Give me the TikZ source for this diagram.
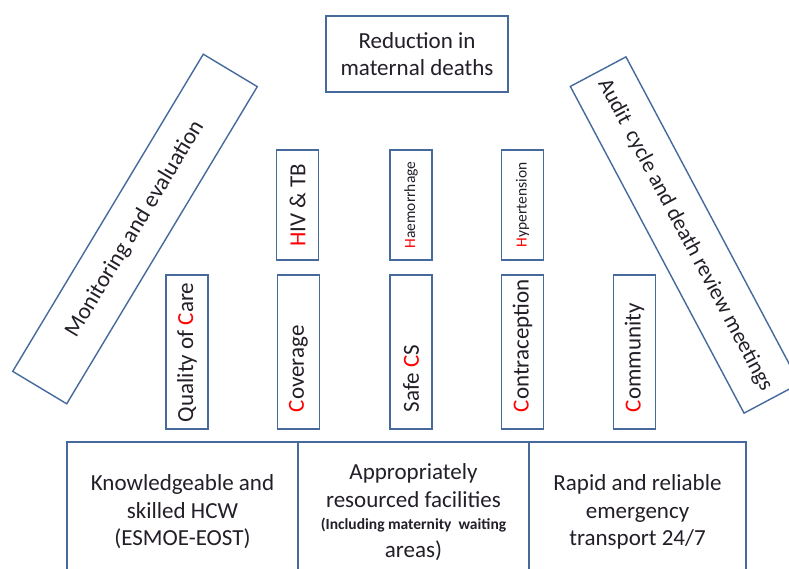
\documentclass[tikz,border=0pt]{standalone}
\usepackage{fontspec}
\setmainfont{Carlito}
\definecolor{boxline}{RGB}{70,106,156}
\definecolor{ink}{RGB}{35,30,40}
\newcommand{\red}[1]{\textcolor{red}{#1}}

\begin{document}
\begin{tikzpicture}[x=1pt, y=1pt,
  box/.style={draw=boxline, line width=1.4pt, text=ink, align=center, inner sep=0pt,
    font=\fontsize{23}{27.5}\selectfont},
  pillar/.style={box, rotate=90, minimum width=110pt, minimum height=42pt},
  column/.style={box, rotate=90, minimum height=42pt, text width=120pt, align=flush left, inner xsep=17pt},
  beam/.style={box, minimum width=370pt, minimum height=63pt},
  base/.style={box, minimum height=140pt}
]

  \useasboundingbox (0, 0) rectangle (789, 568);
  \clip (0, 0) rectangle (789, 568);
  \fill[white] (0, 0) rectangle (789, 568);

  % Goal at the top
  \node (goal) at (417, 514) [box, minimum width=182pt, minimum height=76pt] {Reduction in\\maternal deaths};

  % Side beams
  \node (monitor) at (135, 339) [beam, rotate=59] {Monitoring and evaluation};
  \node (audit) at (685, 333) [beam, rotate=-62, font=\fontsize{22}{26}\selectfont] {Audit\ \ cycle and death review meetings};

  % Upper pillars: causes
  \node (hiv) at (297.5, 363) [pillar] {\red{H}IV \& TB};
  \node (haem) at (411, 363) [pillar, font=\fontsize{15.5}{17}\selectfont] {\red{H}aemorrhage};
  \node (hyper) at (522.5, 363) [pillar, font=\fontsize{15.5}{17}\selectfont] {\red{H}ypertension};

  % Lower pillars: interventions
  \node (quality) at (187, 216) [column, inner xsep=7pt, text width=140pt] {Quality of \red{C}are};
  \node (coverage) at (298.5, 216) [column] {\red{C}overage};
  \node (safecs) at (411, 216) [column] {Safe \red{C}S};
  \node (contra) at (522.5, 216) [column] {\red{C}ontraception};
  \node (commun) at (634.5, 216) [column] {\red{C}ommunity};

  % Foundation
  \node (hcw) at (182.5, 56) [base, minimum width=231pt] {Knowledgeable and\\skilled HCW\\(ESMOE-EOST)};
  \node (facility) at (413.5, 56) [base, minimum width=231pt] {Appropriately\\resourced facilities\\[-5pt]
    \fontsize{15.5}{19}\selectfont\bfseries (Including maternity\ \ waiting\\areas)};
  \node (transport) at (637.5, 56) [base, minimum width=217pt] {Rapid and reliable\\emergency\\transport 24/7};

\end{tikzpicture}
\end{document}
